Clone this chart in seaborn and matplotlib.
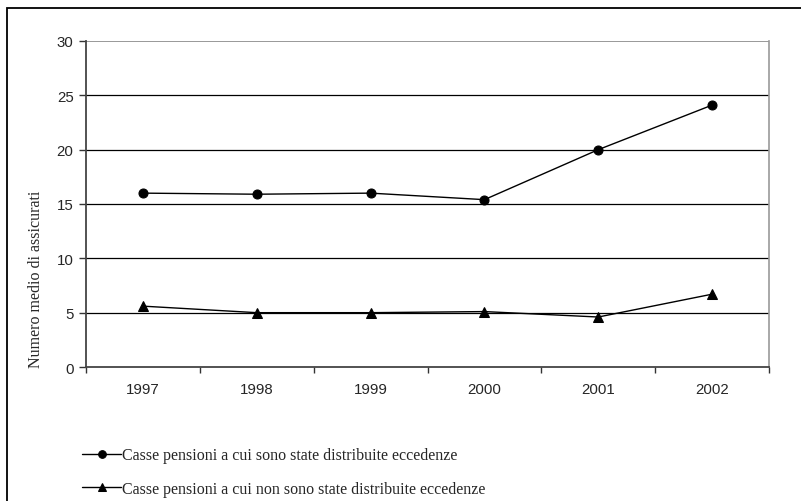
import matplotlib
matplotlib.use("Agg")
import matplotlib.pyplot as plt
import seaborn as sns
import pandas as pd
import numpy as np
from matplotlib.patches import Rectangle
from matplotlib.ticker import FixedLocator, NullFormatter

years = ["1997", "1998", "1999", "2000", "2001", "2002"]
with_surplus = [16.0, 15.9, 16.0, 15.4, 20.0, 24.1]
without_surplus = [5.6, 5.0, 5.0, 5.1, 4.6, 6.7]
series_names = [
    "Casse pensioni a cui sono state distribuite eccedenze",
    "Casse pensioni a cui non sono state distribuite eccedenze",
]
y_ticks = [0, 5, 10, 15, 20, 25, 30]

df = pd.DataFrame({
    "pos": list(range(len(years))) * 2,
    "value": with_surplus + without_surplus,
    "serie": [series_names[0]] * len(years) + [series_names[1]] * len(years),
})

sns.set_theme(style="white")
plt.rcParams["font.family"] = ["Liberation Sans", "DejaVu Sans"]

W, H = 801, 502
fig = plt.figure(figsize=(W / 100, H / 100), dpi=100)
ax = fig.add_axes([86 / W, 1 - 368 / H, (769 - 86) / W, (368 - 42) / H])

sns.lineplot(
    data=df, x="pos", y="value", hue="serie", style="serie",
    palette=["black", "black"], markers=["o", "^"], dashes=False,
    markersize=6.5, linewidth=1.0, markeredgecolor="black", ax=ax, legend=True,
)

ax.set_xlim(-0.5, len(years) - 0.5)
ax.set_ylim(0, 30)
ax.set_yticks(y_ticks)
ax.set_yticklabels([str(t) for t in y_ticks], fontsize=10.8)
ax.xaxis.set_major_locator(FixedLocator(np.arange(-0.5, len(years), 1.0)))
ax.xaxis.set_major_formatter(NullFormatter())
ax.xaxis.set_minor_locator(FixedLocator(np.arange(len(years))))
ax.set_xticklabels(years, minor=True, fontsize=10.8)
ax.tick_params(axis="x", which="major", direction="out", length=4, width=1, color="#333333", bottom=True)
ax.tick_params(axis="x", which="minor", length=0, pad=11, bottom=True)
ax.tick_params(axis="y", direction="out", length=5, width=1, color="#333333", left=True, pad=4)
ax.set_xlabel("")
ax.set_ylabel("Numero medio di assicurati", family=["Liberation Serif"], fontsize=11.5)
ax.yaxis.set_label_coords(-50 / (769 - 86), 0.0)
ax.yaxis.label.set_verticalalignment("center")
ax.yaxis.label.set_horizontalalignment("left")

for t in y_ticks[1:-1]:
    ax.axhline(t, color="black", linewidth=0.9, zorder=0)
ax.axhline(30, color="#888888", linewidth=1.2, zorder=0)

for side in ["left", "bottom"]:
    ax.spines[side].set_color("#444444")
    ax.spines[side].set_linewidth(1.3)
ax.spines["right"].set_color("#999999")
ax.spines["right"].set_linewidth(1.2)
ax.spines["top"].set_visible(False)

leg = ax.legend(
    loc="upper left", bbox_to_anchor=(76 / W, 1 - 442 / H), bbox_transform=fig.transFigure,
    frameon=False, prop={"family": "Liberation Serif", "size": 11.5},
    handlelength=2.4, handletextpad=0.05, labelspacing=1.1, borderaxespad=0,
    markerscale=0.85,
)

fig.patches.append(Rectangle((7 / W, -0.1), 1.2, 1 - 9 / H + 0.1, transform=fig.transFigure,
                             fill=False, edgecolor="black", linewidth=1.3))

fig.savefig("out.png", dpi=100)
